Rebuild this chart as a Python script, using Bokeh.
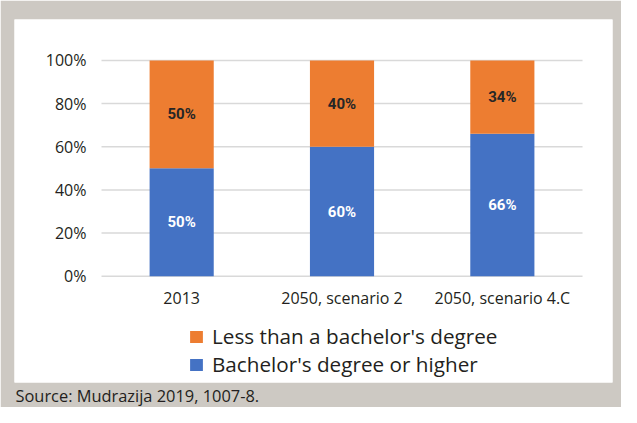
from bokeh.plotting import figure
from bokeh.models import (ColumnDataSource, Range1d, FixedTicker, PrintfTickFormatter,
                          Legend, LegendItem, Title)
from bokeh.core.properties import value
from bokeh.embed import file_html
from bokeh.resources import INLINE

# ---- data ----
categories = ["2013", "2050, scenario 2", "2050, scenario 4.C"]
bachelor_or_higher = [50, 60, 66]
less_than_bachelor = [50, 40, 34]
series_names = ["Bachelor's degree or higher", "Less than a bachelor's degree"]
y_ticks = [0, 20, 40, 60, 80, 100]
source_note = "Source: Mudrazija 2019, 1007-8."

# ---- styles ----
BLUE = "#4472C4"
ORANGE = "#ED7D31"
FRAME_GRAY = "#cdc9c3"
GRID = "#d9d9d9"
TEXT = "#231f20"
FONT = "Open Sans"
LABEL_FONT = "Roboto"

n = len(categories)
xpos = [i + 0.5 for i in range(n)]

src = ColumnDataSource(dict(
    x=xpos,
    bach=bachelor_or_higher,
    less=less_than_bachelor,
    bach_mid=[b / 2 for b in bachelor_or_higher],
    less_mid=[b + l / 2 for b, l in zip(bachelor_or_higher, less_than_bachelor)],
    bach_lbl=[f"{b}%" for b in bachelor_or_higher],
    less_lbl=[f"{l}%" for l in less_than_bachelor],
))

# frame = the white panel; axes drawn inside it at fixed locations
p = figure(x_range=Range1d(-0.5426, n + 0.187), y_range=Range1d(-49.19, 118.94),
           width=621, height=407, output_backend="svg", toolbar_location=None,
           min_border_left=14, min_border_right=9, min_border_top=19,
           min_border_bottom=24)

p.border_fill_color = FRAME_GRAY
p.background_fill_color = "white"
p.outline_line_color = None
p.xgrid.visible = False
p.ygrid.visible = False

# horizontal gridlines over the category span
p.segment(x0=0, x1=n, y0=y_ticks, y1=y_ticks, line_color=GRID, line_width=1.5)

rs = p.vbar_stack(["bach", "less"], x="x", width=0.40, source=src,
                  fill_color=[BLUE, ORANGE], line_color=None)

p.text(x="x", y="bach_mid", text="bach_lbl", source=src, text_align="center",
       text_baseline="middle", text_color="white", text_font=value(LABEL_FONT),
       text_font_style="bold", text_font_size="15px")
p.text(x="x", y="less_mid", text="less_lbl", source=src, text_align="center",
       text_baseline="middle", text_color="#262626", text_font=value(LABEL_FONT),
       text_font_style="bold", text_font_size="15px")

p.yaxis.fixed_location = 0
p.yaxis.ticker = FixedTicker(ticks=y_ticks)
p.yaxis.formatter = PrintfTickFormatter(format="%d%%")
p.xaxis.fixed_location = 0
p.xaxis.ticker = FixedTicker(ticks=xpos)
p.xaxis.major_label_overrides = {x: c for x, c in zip(xpos, categories)}
for ax in (p.xaxis, p.yaxis):
    ax.axis_line_color = None
    ax.major_tick_line_color = None
    ax.minor_tick_line_color = None
    ax.major_label_text_font = FONT
    ax.major_label_text_font_size = "16px"
    ax.major_label_text_color = TEXT
p.yaxis.major_label_standoff = 9
p.xaxis.major_label_standoff = 5

legend = Legend(items=[LegendItem(label=series_names[1], renderers=[rs[1]]),
                       LegendItem(label=series_names[0], renderers=[rs[0]])],
                location=(174, 4), orientation="vertical", padding=0, margin=0,
                spacing=0, glyph_width=16, glyph_height=15, label_standoff=8,
                label_text_font=FONT, label_text_font_size="20.7px",
                label_text_color=TEXT, border_line_color=None,
                background_fill_alpha=0)
p.add_layout(legend)

p.add_layout(Title(text=source_note, align="left", offset=1, standoff=0,
                   vertical_align="middle", text_font=FONT, text_font_size="16.4px",
                   text_font_style="normal", text_color=TEXT), "below")

open("out.html", "w").write(file_html(p, INLINE))
